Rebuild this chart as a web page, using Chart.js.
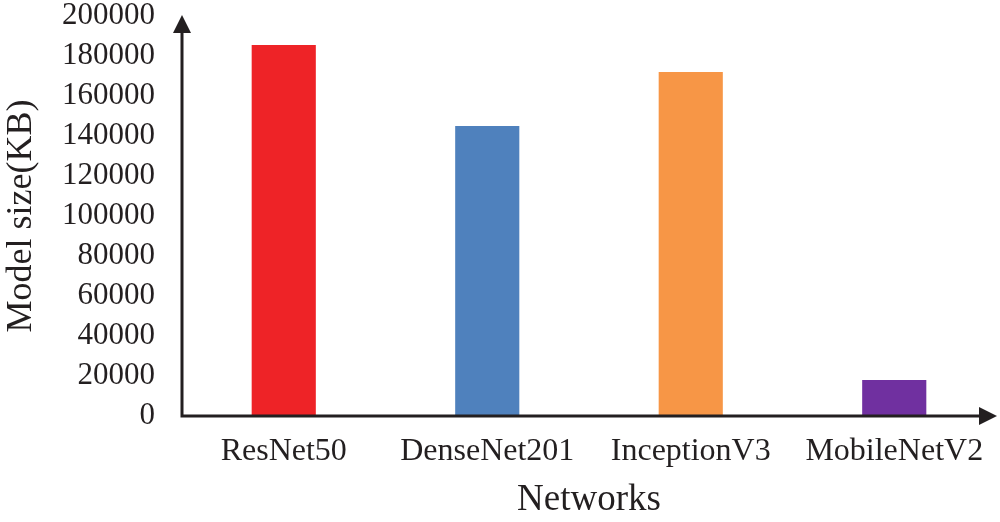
<!DOCTYPE html>
<html>
<head>
<meta charset="UTF-8">
<title>Model size</title>
<script src="https://cdn.jsdelivr.net/npm/chart.js@4"></script>
<style>
  body { margin: 0; background: #fff; }
  #wrap { width: 1000px; height: 522px; position: relative; }
</style>
</head>
<body>
<div id="wrap"><canvas id="chart"></canvas></div>
<script>
// data
const networks = ['ResNet50', 'DenseNet201', 'InceptionV3', 'MobileNetV2'];
const modelSizeKB = [185500, 145000, 172000, 18000];
const barColors = ['#EE2327', '#4F81BD', '#F79646', '#7030A0'];
const yTicks = [0, 20000, 40000, 60000, 80000, 100000, 120000, 140000, 160000, 180000, 200000];

const serif = '"Liberation Serif", "Times New Roman", serif';
const ink = '#231F20';

// axes with arrow heads, like the original figure
const arrowAxes = {
  id: 'arrowAxes',
  afterDraw(chart) {
    const { ctx, chartArea: a } = chart;
    ctx.save();
    ctx.strokeStyle = ink;
    ctx.fillStyle = ink;
    ctx.lineWidth = 3;
    ctx.beginPath();
    ctx.moveTo(a.left, a.bottom + 1.5);
    ctx.lineTo(a.left, a.top + 10);
    ctx.moveTo(a.left - 1.5, a.bottom);
    ctx.lineTo(a.right - 10, a.bottom);
    ctx.stroke();
    // y arrow
    ctx.beginPath();
    ctx.moveTo(a.left, a.top - 1);
    ctx.lineTo(a.left - 9, a.top + 17);
    ctx.lineTo(a.left + 9, a.top + 17);
    ctx.closePath();
    ctx.fill();
    // x arrow
    ctx.beginPath();
    ctx.moveTo(a.right + 1, a.bottom);
    ctx.lineTo(a.right - 17, a.bottom - 9);
    ctx.lineTo(a.right - 17, a.bottom + 9);
    ctx.closePath();
    ctx.fill();
    ctx.restore();
  }
};

new Chart(document.getElementById('chart'), {
  type: 'bar',
  data: {
    labels: networks,
    datasets: [{
      data: modelSizeKB,
      backgroundColor: barColors,
      borderWidth: 0,
      categoryPercentage: 0.8,
      barPercentage: 0.394
    }]
  },
  options: {
    responsive: true,
    maintainAspectRatio: false,
    animation: false,
    layout: { padding: { top: 16, right: 4, left: 0, bottom: 0 } },
    plugins: { legend: { display: false }, tooltip: { enabled: false } },
    scales: {
      x: {
        grid: { display: false, drawTicks: false },
        border: { display: false },
        ticks: { color: ink, padding: 16, font: { family: serif, size: 32 } },
        title: {
          display: true, text: 'Networks', color: ink,
          font: { family: serif, size: 37 }, padding: { top: 4, bottom: 0 }
        },
        afterFit(s) { s.height = 106; s.paddingLeft = 0; s.paddingRight = 0; }
      },
      y: {
        min: 0, max: 200000,
        afterBuildTicks(s) { s.ticks = yTicks.map(v => ({ value: v })); },
        grid: { display: false, drawTicks: false },
        border: { display: false },
        ticks: {
          color: ink, padding: 27, autoSkip: false, font: { family: serif, size: 31 },
          callback: v => String(v)
        },
        title: {
          display: true, text: 'Model size(KB)', color: ink,
          font: { family: serif, size: 36 }, padding: { top: 0, bottom: 0 }
        },
        afterFit(s) { s.width = 182; s.paddingTop = 0; s.paddingBottom = 0; }
      }
    }
  },
  plugins: [arrowAxes]
});
</script>
</body>
</html>
